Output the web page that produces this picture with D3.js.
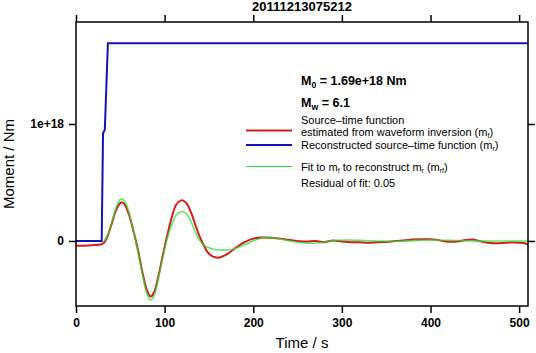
<!DOCTYPE html>
<html>
<head>
<meta charset="utf-8">
<script src="https://cdn.jsdelivr.net/npm/d3@7"></script>
<style>
	body { margin: 0; background: #fff; }
	svg { font-family: "Liberation Sans", Arial, sans-serif; }
	.axis path, .axis line { stroke: #000; stroke-width: 1.5; }
	.axis text { font-size: 12px; font-weight: bold; fill: #000; }
	.leg { font-size: 11px; fill: #000; }
</style>
</head>
<body>
<svg id="stf" width="536" height="353"></svg>
<script>
var title = '20111213075212';
var xTicks = [0, 100, 200, 300, 400, 500];
var yTicks = [0, 1e18];

// reconstructed source-time function (blue), moment in 1e18 Nm
var blueT = [0, 29, 30.5, 32.5, 36, 510];
var blueV = [0, 0, 0.92, 0.95, 1.69, 1.69];

// source-time function from waveform inversion (red)
var redT = [0, 10, 20, 28, 31, 35, 40, 45, 50, 52, 55, 60, 65, 70, 75, 80, 84, 88, 93, 98,
	103, 108, 113, 118, 121, 125, 130, 135, 140, 145, 150, 157, 163, 170, 180, 190, 200, 210,
	220, 230, 240, 250, 260, 270, 280, 290, 300, 310, 320, 330, 340, 350, 360, 370, 380, 390,
	400, 410, 420, 430, 440, 448, 455, 465, 475, 485, 495, 505, 510];
var redV = [-0.04, -0.04, -0.035, -0.03, -0.02, 0.03, 0.14, 0.26, 0.325, 0.33, 0.31, 0.22, 0.08,
	-0.08, -0.27, -0.42, -0.475, -0.44, -0.3, -0.12, 0.05, 0.2, 0.31, 0.345, 0.345, 0.32, 0.24,
	0.13, 0.03, -0.05, -0.11, -0.14, -0.14, -0.115, -0.06, -0.01, 0.02, 0.03, 0.028, 0.02, 0.01,
	0, -0.005, 0, -0.01, 0.005, -0.005, -0.01, -0.012, -0.015, -0.01, -0.008, 0, 0.005, 0.012,
	0.015, 0.014, 0.005, -0.006, -0.005, 0.008, 0.012, 0, -0.015, -0.02, -0.015, -0.013, -0.018, -0.03];

// fit to m_f (green)
var greenT = [31, 35, 40, 45, 50, 52, 55, 60, 65, 70, 75, 80, 84, 88, 93, 98, 103, 108, 113, 118,
	121, 125, 130, 135, 140, 145, 155, 165, 175, 185, 195, 205, 215, 225, 235, 245, 255, 265, 275,
	285, 295, 305, 320, 340, 360, 380, 400, 420, 440, 460, 480, 510];
var greenV = [-0.01, 0.04, 0.15, 0.28, 0.355, 0.36, 0.34, 0.24, 0.08, -0.1, -0.29, -0.45, -0.505,
	-0.47, -0.32, -0.14, 0.02, 0.14, 0.22, 0.25, 0.25, 0.23, 0.16, 0.07, 0, -0.04, -0.07, -0.078,
	-0.075, -0.05, -0.015, 0.015, 0.03, 0.025, 0.01, -0.005, -0.015, -0.02, -0.015, -0.005, 0.005,
	0.008, 0.005, 0, -0.003, 0.003, 0.008, 0.005, 0.002, -0.001, 0, 0];

var margin = {left : 76, right : 8, top : 22, bottom : 47};

var svg = d3.select('#stf'),
	width = 536 - margin.left - margin.right,
	height = 353 - margin.top - margin.bottom;

var x = d3.scaleLinear().domain([0, 510]).range([0, width]);
var y = d3.scaleLinear().domain([-0.556e18, 1.872e18]).range([height, 0]);

var g = svg.append('g').attr('transform', `translate(${margin.left},${margin.top})`);

function toPts(ts, vs){
	return ts.map((t, i) => ({t : t, v : vs[i] * 1e18}));
}

var line = d3.line().x(d => x(d.t)).y(d => y(d.v));
var smooth = d3.line().x(d => x(d.t)).y(d => y(d.v)).curve(d3.curveCatmullRom);

g.append('path').datum(toPts(blueT, blueV))
	.attr('d', line).attr('fill', 'none').attr('stroke', '#1414b4').attr('stroke-width', 2);

g.append('path').datum(toPts(redT, redV))
	.attr('d', smooth).attr('fill', 'none').attr('stroke', '#d41c1c').attr('stroke-width', 2);

g.append('path').datum(toPts(greenT, greenV))
	.attr('d', smooth).attr('fill', 'none').attr('stroke', '#30dc30').attr('stroke-width', 1.6)
	.attr('stroke-opacity', 0.75);

// frame
g.append('rect').attr('width', width).attr('height', height)
	.attr('fill', 'none').attr('stroke', '#000').attr('stroke-width', 1.5);

// axes
g.append('g').attr('class', 'axis').attr('transform', `translate(0,${height})`)
	.call(d3.axisBottom(x).tickValues(xTicks).tickSize(7).tickPadding(5).tickFormat(d3.format('d')))
	.call(a => a.select('.domain').remove());

g.append('g').attr('class', 'axis')
	.call(d3.axisTop(x).tickValues(xTicks).tickSize(7).tickFormat(''))
	.call(a => a.select('.domain').remove());

g.append('g').attr('class', 'axis')
	.call(d3.axisLeft(y).tickValues(yTicks).tickSize(7).tickPadding(5)
		.tickFormat(d => d === 0 ? '0' : '1e+18'))
	.call(a => a.select('.domain').remove());

g.append('g').attr('class', 'axis').attr('transform', `translate(${width},0)`)
	.call(d3.axisRight(y).tickValues(yTicks).tickSize(7).tickFormat(''))
	.call(a => a.select('.domain').remove());

// titles
svg.append('text').attr('x', margin.left + width / 2).attr('y', 11)
	.attr('text-anchor', 'middle').style('font-size', '13px').style('font-weight', 'bold')
	.text(title);

svg.append('text').attr('x', margin.left + width / 2).attr('y', 348)
	.attr('text-anchor', 'middle').style('font-size', '15px')
	.text('Time / s');

svg.append('text').attr('transform', `translate(14,${margin.top + height / 2}) rotate(-90)`)
	.attr('text-anchor', 'middle').style('font-size', '15px')
	.text('Moment / Nm');

// legend
var lx = 301;

function sub(sel, main, s, after){
	sel.append('tspan').text(main);
	sel.append('tspan').attr('dy', 3).style('font-size', '0.7em').text(s);
	sel.append('tspan').attr('dy', -3).text(after);
}

var m0 = svg.append('text').attr('x', lx).attr('y', 85).style('font-size', '12.5px').style('font-weight', 'bold');
sub(m0, 'M', '0', ' = 1.69e+18 Nm');

var mw = svg.append('text').attr('x', lx).attr('y', 107).style('font-size', '12.5px').style('font-weight', 'bold');
sub(mw, 'M', 'w', ' = 6.1');

var legLines = [
	{y : 130.5, color : '#d41c1c', w : 2},
	{y : 145, color : '#1414b4', w : 2},
	{y : 166.5, color : '#30dc30', w : 1}
];
svg.selectAll('.legline').data(legLines).enter().append('line')
	.attr('x1', 246).attr('x2', 292)
	.attr('y1', d => d.y).attr('y2', d => d.y)
	.attr('stroke', d => d.color).attr('stroke-width', d => d.w);

svg.append('text').attr('class', 'leg').attr('x', lx).attr('y', 123.5).text('Source\u2013time function');
var t2 = svg.append('text').attr('class', 'leg').attr('x', lx).attr('y', 136);
t2.append('tspan').text('estimated from waveform inversion (m');
t2.append('tspan').attr('dy', 2).style('font-size', '7px').text('f');
t2.append('tspan').attr('dy', -2).text(')');

var t3 = svg.append('text').attr('class', 'leg').attr('x', lx).attr('y', 149);
t3.append('tspan').text('Reconstructed source\u2013time function (m');
t3.append('tspan').attr('dy', 2).style('font-size', '7px').text('r');
t3.append('tspan').attr('dy', -2).text(')');

var t4 = svg.append('text').attr('class', 'leg').attr('x', lx).attr('y', 171);
t4.append('tspan').text('Fit to m');
t4.append('tspan').attr('dy', 2).style('font-size', '7px').text('f');
t4.append('tspan').attr('dy', -2).text(' to reconstruct m');
t4.append('tspan').attr('dy', 2).style('font-size', '7px').text('r');
t4.append('tspan').attr('dy', -2).text(' (m');
t4.append('tspan').attr('dy', 2).style('font-size', '7px').text('rf');
t4.append('tspan').attr('dy', -2).text(')');

svg.append('text').attr('class', 'leg').attr('x', lx).attr('y', 187).text('Residual of fit: 0.05');
</script>
</body>
</html>
